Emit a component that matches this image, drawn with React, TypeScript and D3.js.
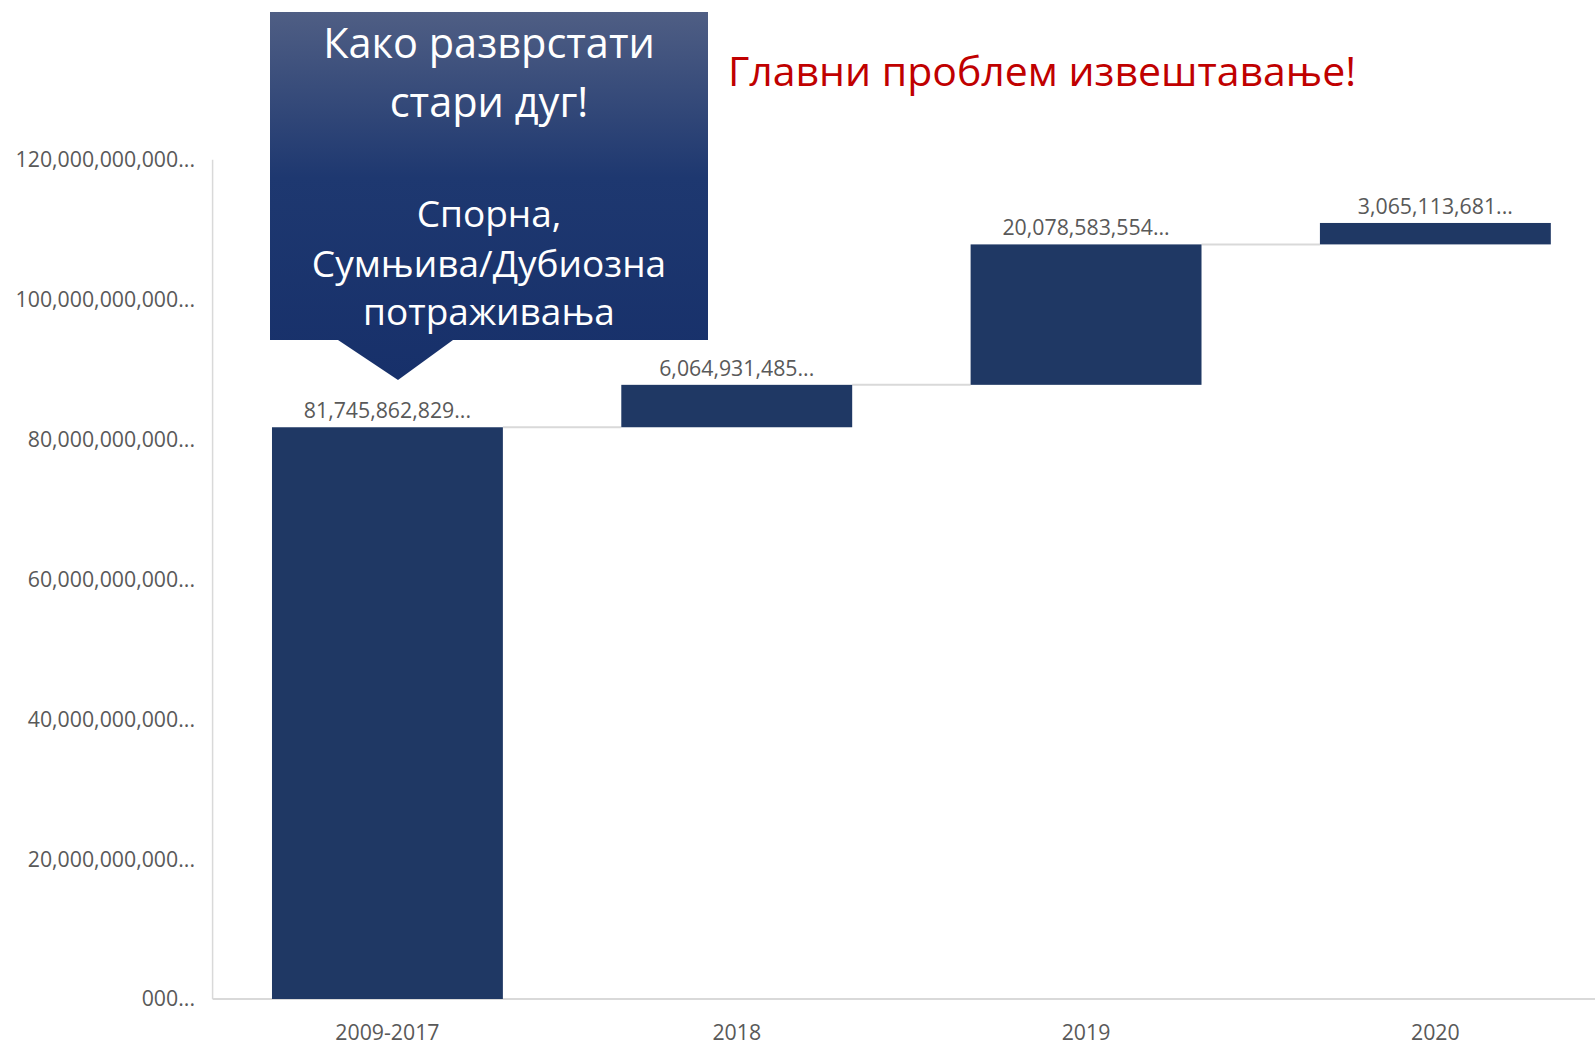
import * as d3 from "d3";

const categories = ["2009-2017", "2018", "2019", "2020"];
const values = [81745862829, 6064931485, 20078583554, 3065113681];
const valueLabels = ["81,745,862,829...", "6,064,931,485...", "20,078,583,554...", "3,065,113,681..."];
const yTicks = [0, 20e9, 40e9, 60e9, 80e9, 100e9, 120e9];
const yTickLabels = [
  "000...",
  "20,000,000,000...",
  "40,000,000,000...",
  "60,000,000,000...",
  "80,000,000,000...",
  "100,000,000,000...",
  "120,000,000,000...",
];
const calloutLines = ["Како разврстати", "стари дуг!", "", "Спорна,", "Сумњива/Дубиозна", "потраживања"];
const title = "Главни проблем извештавање!";

const W = 1595;
const H = 1045;
const FONT = "'Open Sans', 'Noto Sans', sans-serif";
const BAR = "#1f3864";
const GRAY = "#595959";
const LINE = "#d9d9d9";
const AXIS_X = 212.6;

export default function App() {
  const x = d3
    .scaleBand<string>()
    .domain(categories)
    .range([AXIS_X, AXIS_X + 4 * 349.4])
    .paddingInner(0.339)
    .paddingOuter(0.17);
  const y = d3.scaleLinear().domain([0, 120e9]).range([999, 159.7]);

  // waterfall: свака колона почиње где се претходна завршила
  const starts = d3.cumsum([0, ...values.slice(0, -1)]);
  const ends = d3.cumsum(values);

  const lineY = [58, 117, 0, 227, 277, 325];
  const lineSize = [41.5, 41.5, 0, 37, 37, 37];

  return (
    <svg width={W} height={H} viewBox={`0 0 ${W} ${H}`} style={{ position: "absolute", left: 0, top: 0, background: "#fff" }}>
      <defs>
        <linearGradient id="callout" x1="0" y1="0" x2="0" y2="1">
          <stop offset="0" stopColor="#4f5e84" />
          <stop offset="0.45" stopColor="#1e3870" />
          <stop offset="1" stopColor="#17306a" />
        </linearGradient>
      </defs>

      {/* оса */}
      <line x1={AXIS_X} x2={AXIS_X} y1={y(120e9)} y2={y(0)} stroke={LINE} strokeWidth={1.5} />
      <line x1={AXIS_X} x2={1595} y1={y(0)} y2={y(0)} stroke={LINE} strokeWidth={2} />

      {yTicks.map((t, i) => (
        <text key={t} x={195} y={y(t)} dy="0.35em" textAnchor="end" fill={GRAY} fontFamily={FONT} fontSize={21.3}>
          {yTickLabels[i]}
        </text>
      ))}

      {categories.map((c) => (
        <text key={c} x={x(c)! + x.bandwidth() / 2} y={1040} textAnchor="middle" fill={GRAY} fontFamily={FONT} fontSize={21.3}>
          {c}
        </text>
      ))}

      {/* спојне линије */}
      {categories.slice(0, -1).map((c, i) => (
        <line
          key={"c" + c}
          x1={x(c)! + x.bandwidth()}
          x2={x(categories[i + 1])!}
          y1={y(ends[i])}
          y2={y(ends[i])}
          stroke={LINE}
          strokeWidth={2}
        />
      ))}

      {/* колоне */}
      {categories.map((c, i) => (
        <g key={"b" + c}>
          <rect x={x(c)!} y={y(ends[i])} width={x.bandwidth()} height={y(starts[i]) - y(ends[i])} fill={BAR} />
          <text x={x(c)! + x.bandwidth() / 2} y={y(ends[i]) - 9} textAnchor="middle" fill={GRAY} fontFamily={FONT} fontSize={21.3}>
            {valueLabels[i]}
          </text>
        </g>
      ))}

      {/* облачић */}
      <path d="M270,12 H708 V340 H453 L398,380 L338,340 H270 Z" fill="url(#callout)" />
      {calloutLines.map((l, i) =>
        l ? (
          <text key={i} x={489} y={lineY[i]} textAnchor="middle" fill="#fff" fontFamily={FONT} fontSize={lineSize[i]}>
            {l}
          </text>
        ) : null
      )}

      <text x={728} y={86} fill="#c00000" fontFamily={FONT} fontSize={41}>
        {title}
      </text>
    </svg>
  );
}
